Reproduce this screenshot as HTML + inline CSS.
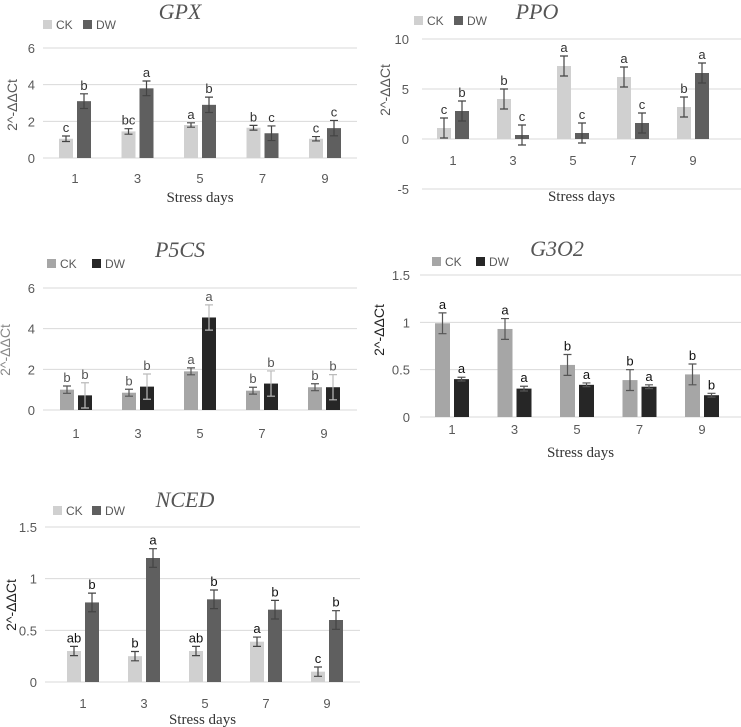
<!DOCTYPE html>
<html><head><meta charset="utf-8">
<style>
html,body{margin:0;padding:0;background:#fff;}
svg{display:block;}
text{font-family:"Liberation Sans",sans-serif;}
.ser{font-family:"Liberation Serif",serif;}
</style></head>
<body>
<svg id="chart" width="741" height="727" viewBox="0 0 741 727" xmlns="http://www.w3.org/2000/svg"></svg>
<script>
const categories = ["1","3","5","7","9"];
// GPX
const gpxCK = [1.05,1.45,1.8,1.65,1.05];
const gpxCKerr = [0.15,0.15,0.12,0.13,0.12];
const gpxDW = [3.1,3.8,2.9,1.35,1.63];
const gpxDWerr = [0.4,0.4,0.42,0.4,0.42];
const gpxCKlet = ["c","bc","a","b","c"];
const gpxDWlet = ["b","a","b","c","c"];
const gpxTicks = [0,2,4,6];
// PPO
const ppoCK = [1.1,4.0,7.3,6.2,3.2];
const ppoCKerr = [1.0,1.0,1.0,1.0,1.0];
const ppoDW = [2.8,0.4,0.6,1.6,6.6];
const ppoDWerr = [1.0,1.0,1.0,1.0,1.0];
const ppoCKlet = ["c","b","a","a","b"];
const ppoDWlet = ["b","c","c","c","a"];
const ppoTicks = [-5,0,5,10];
// P5CS
const p5csCK = [1.0,0.85,1.9,0.95,1.12];
const p5csCKerr = [0.18,0.17,0.17,0.17,0.17];
const p5csDW = [0.72,1.15,4.55,1.3,1.12];
const p5csDWerr = [0.62,0.62,0.62,0.62,0.62];
const p5csCKlet = ["b","b","a","b","b"];
const p5csDWlet = ["b","b","a","b","b"];
const p5csTicks = [0,2,4,6];
// G3O2
const g3CK = [0.99,0.93,0.55,0.39,0.45];
const g3CKerr = [0.11,0.11,0.11,0.11,0.11];
const g3DW = [0.4,0.3,0.34,0.32,0.23];
const g3DWerr = [0.02,0.025,0.02,0.02,0.02];
const g3CKlet = ["a","a","b","b","b"];
const g3DWlet = ["a","a","a","a","b"];
const g3Ticks = [0,0.5,1,1.5];
// NCED
const ncCK = [0.3,0.25,0.3,0.39,0.1];
const ncCKerr = [0.045,0.045,0.045,0.045,0.045];
const ncDW = [0.77,1.2,0.8,0.7,0.6];
const ncDWerr = [0.09,0.09,0.09,0.09,0.09];
const ncCKlet = ["ab","b","ab","a","c"];
const ncDWlet = ["b","a","b","b","b"];
const ncTicks = [0,0.5,1,1.5];

const svg = document.getElementById('chart');
const NS = 'http://www.w3.org/2000/svg';
function mk(tag, attrs, parent, txt){
  const e = document.createElementNS(NS, tag);
  for (const k in attrs) e.setAttribute(k, attrs[k]);
  if (txt !== undefined) e.textContent = txt;
  parent.appendChild(e);
  return e;
}

function panel(p){
  const g = mk('g', {}, svg);
  
  
  const y = v => p.y0 + (v - p.vmin) / (p.vmax - p.vmin) * (p.y1 - p.y0);
  const cx = i => p.c0 + i * p.step;
  // gridlines + tick labels
  p.ticks.forEach(t => {
    const gl = mk('line', {x1:p.xl, x2:p.xr, y1:y(t), y2:y(t), stroke:'#d9d9d9', 'stroke-width':1}, g);
    
    
    const tl = mk('text', {x:p.tx, y:y(t)+5, 'text-anchor':'end', 'font-size':13, fill:'#595959'}, g, String(t));
    
    
  });
  const series = [
    {v:p.ck, e:p.cke, l:p.ckl, c:p.ckc, off:-p.bw/2-2, ec:p.ckec},
    {v:p.dw, e:p.dwe, l:p.dwl, c:p.dwc, off:p.bw/2+2, ec:p.dwec}
  ];
  series.forEach((s, si) => {
    s.v.forEach((v, i) => {
      const x = cx(i) + s.off;
      const top = Math.min(y(v), y(0)), h = Math.abs(y(v) - y(0));
      const b = mk('rect', {x:x - p.bw/2, y:top, width:p.bw, height:h, fill:s.c}, g);
      
      
      const yt = y(v + s.e[i]), yb = y(v - s.e[i]);
      const eb = mk('path', {d:`M${x},${yt}V${yb}M${x-4},${yt}H${x+4}M${x-4},${yb}H${x+4}`, stroke:s.ec, 'stroke-width':1.2, fill:'none'}, g);
      
      
      const lt = mk('text', {x:x, y:yt - 4, 'text-anchor':'middle', 'font-size':13, fill:p.letc}, g, s.l[i]);
      
      
    });
  });
  categories.forEach((c, i) => {
    const t = mk('text', {x:cx(i), y:p.catY, 'text-anchor':'middle', 'font-size':13, fill:'#595959'}, g, c);
    
    
  });
  if (p.xlabY) {
    const xl = mk('text', {x:(p.xl+p.xr)/2, y:p.xlabY, 'text-anchor':'middle', 'font-size':15, fill:'#333', class:'ser'}, g, 'Stress days');
    
    
  }
  const yl = mk('text', {x:0, y:0, transform:`translate(${p.ylx},${p.yly}) rotate(-90)`, 'text-anchor':'middle', 'font-size':14, fill:p.ylc}, g, '2^-ΔΔCt');
  
  
  const ti = mk('text', {x:p.titleX, y:p.titleY, 'text-anchor':'middle', 'font-size':22, 'font-style':'italic', fill:'#555', class:'ser'}, g, p.name);
  
  
  [['CK', p.ckc, p.legX], ['DW', p.dwc, p.legX + p.legGap]].forEach(([n, c, lx]) => {
    const r = mk('rect', {x:lx, y:p.legY - 9, width:9, height:9, fill:c}, g);
    
    
    const t = mk('text', {x:lx + 13, y:p.legY, 'font-size':12, fill:'#595959'}, g, n);
    
    
  });
}

panel({name:'GPX', ck:gpxCK, cke:gpxCKerr, dw:gpxDW, dwe:gpxDWerr, ckl:gpxCKlet, dwl:gpxDWlet, ticks:gpxTicks,
  vmin:0, vmax:6, y0:158, y1:48, xl:43, xr:357, c0:75, step:62.5, bw:14, tx:35,
  ckc:'#d0d0d0', dwc:'#5f5f5f', ckec:'#444', dwec:'#444', letc:'#333',
  catY:183, xlabY:202, ylx:17, yly:105, ylc:'#595959', titleX:180, titleY:19, legX:43, legGap:40, legY:29});
panel({name:'PPO', ck:ppoCK, cke:ppoCKerr, dw:ppoDW, dwe:ppoDWerr, ckl:ppoCKlet, dwl:ppoDWlet, ticks:ppoTicks,
  vmin:0, vmax:10, y0:139, y1:39, xl:422, xr:741, c0:453, step:60, bw:14, tx:409,
  ckc:'#d0d0d0', dwc:'#5f5f5f', ckec:'#444', dwec:'#444', letc:'#333',
  catY:165, xlabY:201, ylx:390, yly:90, ylc:'#595959', titleX:537, titleY:19, legX:414, legGap:40, legY:25});
panel({name:'P5CS', ck:p5csCK, cke:p5csCKerr, dw:p5csDW, dwe:p5csDWerr, ckl:p5csCKlet, dwl:p5csDWlet, ticks:p5csTicks,
  vmin:0, vmax:6, y0:410, y1:288, xl:43, xr:357, c0:76, step:62, bw:14, tx:35,
  ckc:'#a6a6a6', dwc:'#262626', ckec:'#555', dwec:'#bbb', letc:'#555',
  catY:438, xlabY:0, ylx:10, yly:350, ylc:'#888', titleX:180, titleY:257, legX:47, legGap:45, legY:268});
panel({name:'G3O2', ck:g3CK, cke:g3CKerr, dw:g3DW, dwe:g3DWerr, ckl:g3CKlet, dwl:g3DWlet, ticks:g3Ticks,
  vmin:0, vmax:1.5, y0:417, y1:275, xl:420, xr:741, c0:452, step:62.5, bw:15, tx:410,
  ckc:'#a6a6a6', dwc:'#262626', ckec:'#555', dwec:'#555', letc:'#111',
  catY:434, xlabY:457, ylx:384, yly:330, ylc:'#222', titleX:557, titleY:256, legX:432, legGap:44, legY:266});
panel({name:'NCED', ck:ncCK, cke:ncCKerr, dw:ncDW, dwe:ncDWerr, ckl:ncCKlet, dwl:ncDWlet, ticks:ncTicks,
  vmin:0, vmax:1.5, y0:682, y1:527, xl:45, xr:360, c0:83, step:61, bw:14, tx:37,
  ckc:'#d0d0d0', dwc:'#5f5f5f', ckec:'#444', dwec:'#444', letc:'#111',
  catY:708, xlabY:724, ylx:16, yly:605, ylc:'#222', titleX:185, titleY:507, legX:53, legGap:39, legY:515});
</script>
</body></html>
